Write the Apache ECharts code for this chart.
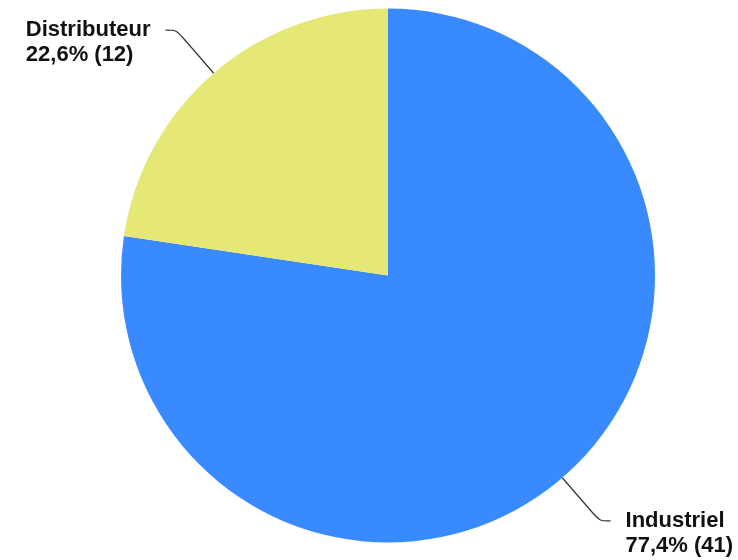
<!DOCTYPE html>
<html>
<head>
<meta charset="utf-8">
<script src="https://cdn.jsdelivr.net/npm/echarts@6/dist/echarts.min.js"></script>
<style>
html,body{margin:0;padding:0;background:#fff;}
#chart{width:738px;height:560px;}
</style>
</head>
<body>
<div id="chart"></div>
<script>
var categories = ['Industriel', 'Distributeur'];
var values = [41, 12];
var colors = ['#3a8aff', '#e6e876'];

var chart = echarts.init(document.getElementById('chart'), null, {renderer: 'canvas'});
var txt = {
  fontFamily: '"Liberation Sans", Arial, sans-serif',
  fontWeight: 'bold',
  fontSize: 22,
  lineHeight: 25,
  color: '#111',
  align: 'left'
};
chart.setOption({
  animation: false,
  backgroundColor: '#ffffff',
  series: [{
    type: 'pie',
    center: [388, 275.5],
    radius: [0, 267],
    startAngle: 90,
    clockwise: true,
    avoidLabelOverlap: false,
    data: categories.map(function (c, i) {
      return {name: c, value: values[i], itemStyle: {color: colors[i]}};
    }),
    itemStyle: {borderWidth: 0},
    label: {
      show: true,
      position: 'outside',
      fontFamily: '"Liberation Sans", Arial, sans-serif',
      fontWeight: 'bold',
      fontSize: 22,
      lineHeight: 25,
      color: '#111',
      distanceToLabelLine: 15,
      rich: {t: txt},
      formatter: function (p) {
        return '{t| }\n{t|' + p.name + '}\n{t|' + p.percent.toFixed(1).replace('.', ',') + '% (' + p.value + ')}';
      }
    },
    labelLine: {
      show: true,
      length: 57,
      length2: 11,
      smooth: 0.3,
      lineStyle: {color: '#333', width: 1.2}
    },
    emphasis: {disabled: true}
  }]
});
</script>
</body>
</html>
